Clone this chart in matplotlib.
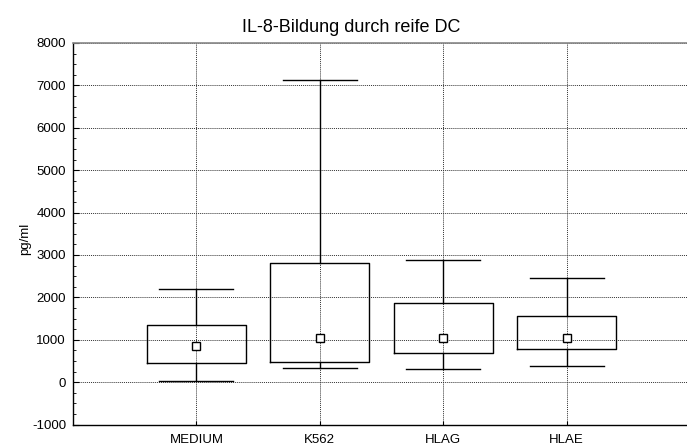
import matplotlib
matplotlib.use("Agg")
import matplotlib.pyplot as plt
from matplotlib.ticker import MultipleLocator

categories = ["MEDIUM", "K562", "HLAG", "HLAE"]
whisker_low = [25, 340, 315, 385]
q1 = [440, 470, 690, 780]
median = [850, 1045, 1030, 1045]
q3 = [1345, 2800, 1855, 1560]
whisker_high = [2185, 7120, 2875, 2465]

title = "IL-8-Bildung durch reife DC"
ylabel = "pg/ml"

plt.rcParams['font.family'] = ['Liberation Sans', 'DejaVu Sans']
plt.rcParams['axes.unicode_minus'] = False

fig = plt.figure(figsize=(6.87, 4.43), dpi=100)
ax = fig.add_axes([73/687, (443-424.5)/443, (690-73)/687, (424.5-43)/443])

stats = []
for i, c in enumerate(categories):
    stats.append(dict(label=c, med=median[i], q1=q1[i], q3=q3[i],
                      whislo=whisker_low[i], whishi=whisker_high[i], fliers=[]))

positions = list(range(1, len(categories) + 1))
ax.bxp(stats, positions=positions, widths=0.8, showfliers=False,
       boxprops=dict(color='black', linewidth=1.0),
       whiskerprops=dict(color='black', linewidth=1.0),
       capprops=dict(color='black', linewidth=1.0),
       medianprops=dict(linewidth=0), capwidths=0.6, zorder=3)
ax.plot(positions, median, linestyle='none', marker='s', markersize=5.5,
        markerfacecolor='white', markeredgecolor='black', markeredgewidth=1.0, zorder=4)

ax.set_xlim(0, 5)
ax.set_ylim(-1000, 8000)
ax.set_xticks(positions)
ax.set_xticklabels(categories, fontsize=9.5)
ax.yaxis.set_major_locator(MultipleLocator(1000))
ax.yaxis.set_minor_locator(MultipleLocator(250))
ax.tick_params(axis='y', which='major', direction='in', length=4, labelsize=9.5, pad=5)
ax.tick_params(axis='y', which='minor', direction='in', length=2)
ax.tick_params(axis='x', which='major', direction='in', length=3, labelsize=9.5, pad=7)
ax.grid(True, which='major', linestyle=(0, (1, 1)), color='#333333', linewidth=0.7, zorder=0)
ax.set_axisbelow(True)
ax.spines['right'].set_visible(False)
ax.spines['top'].set_color('#888888')
ax.spines['top'].set_linewidth(1.2)
ax.spines['left'].set_linewidth(1.0)
ax.spines['bottom'].set_linewidth(1.0)

fig.text(351.5/687, 1 - 31.7/443, title, ha='center', va='baseline', fontsize=13)
fig.text(25/687, 1 - 239/443, ylabel, ha='center', va='center', rotation=90, fontsize=9.5)

fig.savefig("out.png", dpi=100)
